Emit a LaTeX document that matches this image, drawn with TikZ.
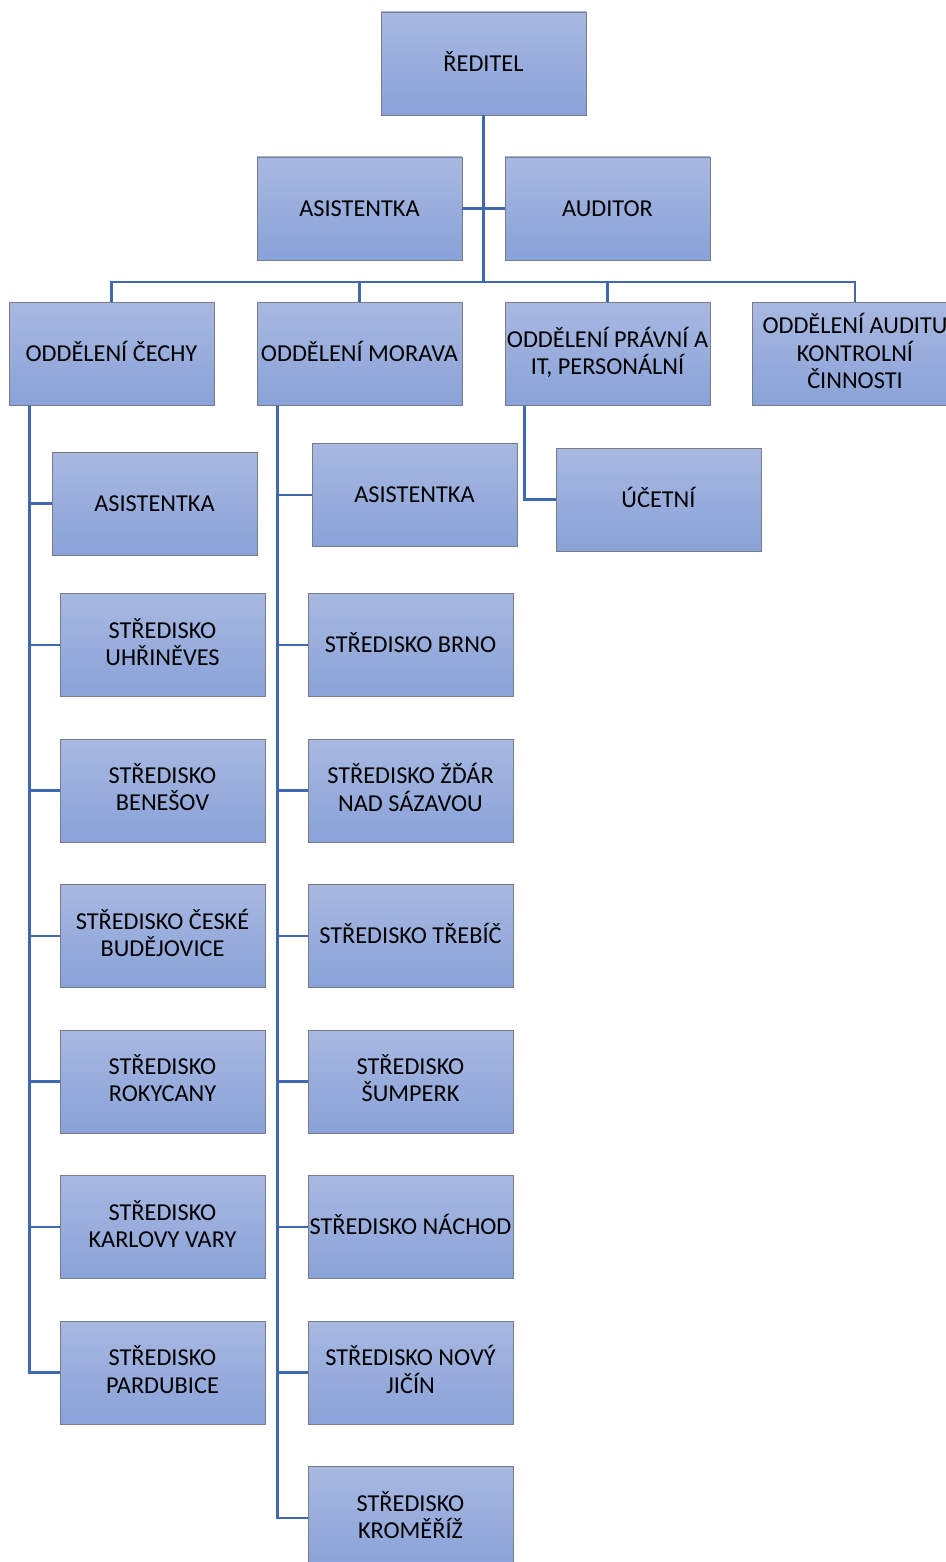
\documentclass[tikz,border=0pt]{standalone}
\usepackage{fontspec}
\setmainfont{Carlito}
\usepackage{tikz}
\usepackage{xcolor}
\usetikzlibrary{
    calc,
    positioning
}
\definecolor{boxtop}{RGB}{168,184,225}
\definecolor{boxbottom}{RGB}{137,162,216}
\definecolor{boxline}{RGB}{120,124,132}
\definecolor{connblue}{RGB}{64,104,176}

\begin{document}
\begin{tikzpicture}[x=1pt, y=-1pt,
    unit/.style={draw=boxline, line width=0.9pt, top color=boxtop, bottom color=boxbottom,
        minimum width=205pt, minimum height=103pt, inner sep=0pt, align=center,
        font=\fontsize{24.3}{27.3}\selectfont,
        execute at begin node={\rule{0pt}{0.9em}},
        execute at end node={\rule[-0.256em]{0pt}{0pt}}},
    conn/.style={draw=connblue, line width=2.6pt}]
                        \useasboundingbox (0, 0) rectangle (945, 1562);

                        \node[unit] (reditel) at (483.5, 63.5) {ŘEDITEL};
                        \node[unit] (asist) at (359.5, 208.5) {ASISTENTKA};
                        \node[unit] (auditor) at (607.5, 208.5) {AUDITOR};

                        \node[unit] (cechy) at (111.5, 354) {ODDĚLENÍ ČECHY};
                        \node[unit] (morava) at (359.5, 354) {ODDĚLENÍ MORAVA};
                        \node[unit] (pravni) at (607.5, 354) {ODDĚLENÍ PRÁVNÍ A\\IT, PERSONÁLNÍ};
                        \node[unit] (audit) at (855, 354) {ODDĚLENÍ AUDITU\\KONTROLNÍ\\ČINNOSTI};

                        \node[unit] (casist) at (154.5, 503.5) {ASISTENTKA};
                        \node[unit] (uhrineves) at (162.5, 645) {STŘEDISKO\\UHŘINĚVES};
                        \node[unit] (benesov) at (162.5, 790.5) {STŘEDISKO\\BENEŠOV};
                        \node[unit] (budejovice) at (162.5, 936) {STŘEDISKO ČESKÉ\\BUDĚJOVICE};
                        \node[unit] (rokycany) at (162.5, 1081.5) {STŘEDISKO\\ROKYCANY};
                        \node[unit] (kvary) at (162.5, 1227) {STŘEDISKO\\KARLOVY VARY};
                        \node[unit] (pardubice) at (162.5, 1372.5) {STŘEDISKO\\PARDUBICE};

                        \node[unit] (masist) at (414.5, 495) {ASISTENTKA};
                        \node[unit] (brno) at (410.5, 645) {STŘEDISKO BRNO};
                        \node[unit] (zdar) at (410.5, 790.5) {STŘEDISKO ŽĎÁR\\NAD SÁZAVOU};
                        \node[unit] (trebic) at (410.5, 936) {STŘEDISKO TŘEBÍČ};
                        \node[unit] (sumperk) at (410.5, 1081.5) {STŘEDISKO\\ŠUMPERK};
                        \node[unit] (nachod) at (410.5, 1227) {STŘEDISKO NÁCHOD};
                        \node[unit] (jicin) at (410.5, 1372.5) {STŘEDISKO NOVÝ\\JIČÍN};
                        \node[unit] (kromeriz) at (410.5, 1518) {STŘEDISKO\\KROMĚŘÍŽ};

                        \node[unit] (ucetni) at (658.5, 499.5) {ÚČETNÍ};

                        \coordinate (bar) at (483.5, 282);
                        \coordinate (cspine) at ($(cechy.south west)+(21, 0)$);
                        \coordinate (mspine) at ($(morava.south west)+(21, 0)$);
                        \coordinate (pspine) at ($(pravni.south west)+(20, 0)$);

                        \draw[conn]
                        (reditel.south) -- (bar)
                        (asist.east) -- (auditor.west)
                        (cechy.north) |- (bar) -| (audit.north)
                        (morava.north) -- (morava.north |- bar)
                        (pravni.north) -- (pravni.north |- bar)
                        (cspine) |- (casist.west)
                        (cspine) |- (uhrineves.west)
                        (cspine) |- (benesov.west)
                        (cspine) |- (budejovice.west)
                        (cspine) |- (rokycany.west)
                        (cspine) |- (kvary.west)
                        (cspine) |- (pardubice.west)
                        (mspine) |- (masist.west)
                        (mspine) |- (brno.west)
                        (mspine) |- (zdar.west)
                        (mspine) |- (trebic.west)
                        (mspine) |- (sumperk.west)
                        (mspine) |- (nachod.west)
                        (mspine) |- (jicin.west)
                        (mspine) |- (kromeriz.west)
                        (pspine) |- (ucetni.west);
                    \end{tikzpicture}
\end{document}
